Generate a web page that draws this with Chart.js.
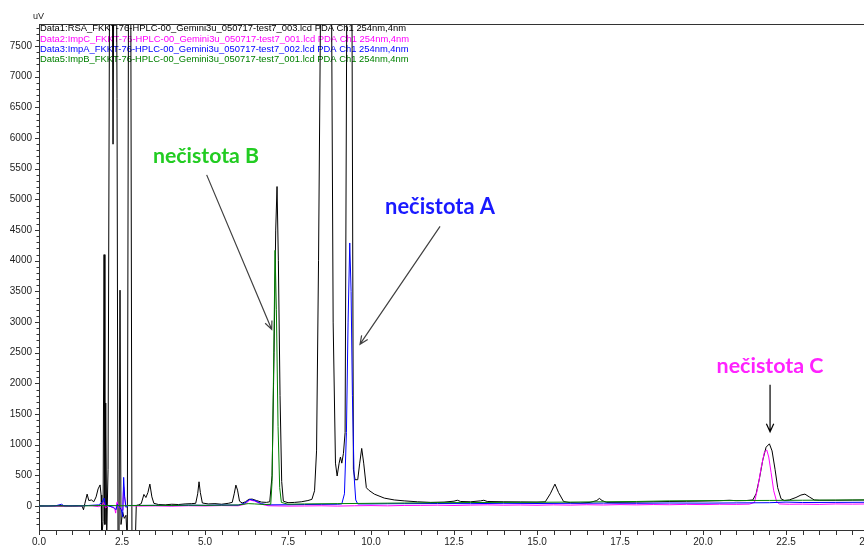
<!DOCTYPE html>
<html>
<head>
<meta charset="utf-8">
<script src="https://cdn.jsdelivr.net/npm/chart.js@4.4.1/dist/chart.umd.min.js"></script>
<style>
  html, body { margin: 0; padding: 0; background: #fff; overflow: hidden; }
  #wrap { width: 890px; height: 546px; position: relative; }
</style>
</head>
<body>
<div id="wrap"><canvas id="c"></canvas></div>
<script>
// ---------------- DATA (time [min], signal [uV]) ----------------
const seriesNames = [
  'Data1:RSA_FKKT-76-HPLC-00_Gemini3u_050717-test7_003.lcd PDA Ch1 254nm,4nm',
  'Data2:ImpC_FKKT-76-HPLC-00_Gemini3u_050717-test7_001.lcd PDA Ch1 254nm,4nm',
  'Data3:ImpA_FKKT-76-HPLC-00_Gemini3u_050717-test7_002.lcd PDA Ch1 254nm,4nm',
  'Data5:ImpB_FKKT-76-HPLC-00_Gemini3u_050717-test7_001.lcd PDA Ch1 254nm,4nm'
];

const rsaPoints = [
  [0.00,5],[0.30,0],[0.60,8],[0.90,2],[1.20,6],[1.30,0],[1.34,-60],[1.38,40],[1.45,195],[1.50,90],
  [1.58,100],[1.65,70],[1.72,150],[1.78,280],[1.84,345],[1.87,180],[1.89,-500],[1.93,-250],[1.96,4100],
  [1.985,-300],[2.01,1680],[2.04,-450],[2.08,600],[2.13,9500],[2.20,9500],[2.23,5900],[2.26,9500],
  [2.33,9500],[2.35,6650],[2.38,-600],[2.41,-600],[2.44,3520],[2.47,-300],[2.52,-100],[2.57,-200],
  [2.62,-150],[2.66,-600],[2.70,9500],[2.76,9500],[2.80,-600],[2.90,-600],[2.93,10],[3.00,20],
  [3.08,40],[3.16,190],[3.22,140],[3.28,220],[3.34,358],[3.40,150],[3.46,45],[3.60,25],[3.80,20],
  [4.00,30],[4.20,25],[4.40,35],[4.60,40],[4.72,45],[4.78,200],[4.82,396],[4.86,220],[4.92,50],
  [5.10,35],[5.30,40],[5.50,30],[5.70,45],[5.82,60],[5.88,200],[5.93,342],[5.98,260],[6.04,80],
  [6.12,50],[6.22,70],[6.32,110],[6.42,114],[6.55,90],[6.70,65],[6.85,60],[6.95,70],[7.02,500],
  [7.08,2500],[7.13,4500],[7.17,5210],[7.21,4000],[7.26,1800],[7.31,400],[7.36,80],[7.50,55],
  [7.70,60],[7.90,70],[8.10,90],[8.22,110],[8.30,250],[8.36,900],[8.42,4000],[8.50,9500],[8.80,9500],
  [8.86,3000],[8.93,700],[8.98,490],[9.04,700],[9.08,800],[9.12,700],[9.17,860],[9.22,1200],
  [9.28,9500],[9.42,9500],[9.47,600],[9.52,430],[9.60,430],[9.66,700],[9.72,940],[9.78,700],
  [9.86,300],[9.93,260],[10.1,195],[10.4,130],[10.7,100],[11.0,85],[11.4,70],[11.8,60],[12.2,65],
  [12.5,80],[12.6,95],[12.7,75],[13.0,70],[13.3,85],[13.4,95],[13.5,75],[14.0,70],[14.5,68],
  [15.0,65],[15.25,70],[15.4,200],[15.54,358],[15.65,220],[15.8,75],[16.0,55],[16.3,50],[16.6,60],
  [16.8,90],[16.88,125],[16.96,90],[17.1,60],[17.5,62],[18.0,65],[18.5,70],[19.0,75],[19.5,78],
  [20.0,82],[20.5,88],[20.8,95],[21.0,88],[21.3,90],[21.5,100],[21.6,200],[21.7,450],[21.8,750],
  [21.9,960],[22.0,1015],[22.08,900],[22.17,600],[22.25,300],[22.35,120],[22.45,90],[22.6,100],
  [22.8,140],[22.95,180],[23.07,195],[23.2,150],[23.35,100],[23.5,95],[24.0,95],[24.5,98],[25.0,100]
];

const impCPoints = [
  [0.00,-5],[0.40,-2],[0.80,-8],[1.20,-4],[1.40,10],[1.60,5],[1.80,-10],[1.90,20],[1.96,60],
  [2.00,-30],[2.10,10],[2.20,-20],[2.28,-40],[2.31,-115],[2.34,50],[2.36,70],[2.40,-20],[2.46,-30],
  [2.50,-65],[2.53,100],[2.55,315],[2.58,150],[2.61,-10],[2.66,10],[2.80,5],[3.00,0],[3.50,3],
  [4.00,-2],[4.50,5],[5.00,2],[5.50,8],[6.00,5],[6.20,30],[6.35,100],[6.50,80],[6.70,30],[6.90,5],
  [7.50,0],[8.00,2],[8.50,5],[9.00,0],[9.50,5],[10.0,8],[10.5,4],[11.0,10],[11.5,12],[12.0,15],
  [12.5,10],[13.0,16],[13.5,20],[14.0,15],[14.5,18],[15.0,14],[15.5,20],[16.0,16],[16.5,22],
  [17.0,18],[17.5,24],[18.0,20],[18.5,25],[19.0,22],[19.5,28],[20.0,24],[20.5,30],[21.0,28],
  [21.4,32],[21.55,60],[21.65,300],[21.75,620],[21.85,880],[21.92,915],[21.98,800],[22.05,550],
  [22.13,250],[22.22,70],[22.3,35],[22.6,30],[23.0,32],[23.5,28],[24.0,35],[24.5,32],[25.0,35]
];

const impAPoints = [
  [0.00,0],[0.50,5],[0.68,30],[0.75,5],[1.00,3],[1.30,5],[1.50,10],[1.80,20],[1.90,60],[1.96,130],
  [2.00,20],[2.10,0],[2.25,-20],[2.32,-60],[2.36,30],[2.42,-10],[2.48,-60],[2.52,-175],[2.55,468],
  [2.58,150],[2.62,-20],[2.70,10],[3.00,10],[3.50,12],[4.00,8],[4.50,15],[5.00,12],[5.50,18],
  [6.00,15],[6.20,50],[6.35,110],[6.50,90],[6.70,40],[6.90,20],[7.50,22],[8.00,25],[8.50,28],
  [9.00,30],[9.12,35],[9.20,200],[9.26,1200],[9.31,3000],[9.36,4290],[9.40,3500],[9.44,1800],
  [9.49,500],[9.54,100],[9.60,35],[10.0,35],[10.5,38],[11.0,40],[12.0,42],[13.0,40],[14.0,45],
  [15.0,42],[16.0,45],[17.0,48],[18.0,45],[19.0,50],[20.0,48],[21.0,52],[22.0,55],[22.5,65],
  [23.0,58],[24.0,60],[25.0,62]
];

const impBPoints = [
  [0.00,0],[0.50,2],[1.00,0],[1.50,5],[2.00,10],[2.50,5],[3.00,10],[3.50,12],[4.00,10],[4.50,15],
  [5.00,12],[5.50,15],[6.00,18],[6.30,40],[6.50,35],[6.80,25],[6.98,30],[7.02,400],[7.06,2000],
  [7.11,4170],[7.15,3200],[7.20,1300],[7.25,300],[7.30,60],[7.50,30],[8.00,35],[9.00,40],[10.0,45],
  [11.0,50],[12.0,55],[13.0,58],[14.0,60],[15.0,62],[16.0,65],[17.0,70],[18.0,75],[19.0,85],
  [20.0,88],[21.0,90],[22.0,92],[23.0,95],[24.0,98],[25.0,100]
];

const xTickLabels = ['0.0','2.5','5.0','7.5','10.0','12.5','15.0','17.5','20.0','22.5','25.0'];
const yTickLabels = ['0','500','1000','1500','2000','2500','3000','3500','4000','4500','5000','5500','6000','6500','7000','7500'];

const annotationTexts = ['nečistota B', 'nečistota A', 'nečistota C'];

// ---------------- STYLE / LAYOUT ----------------
const seriesColors = ['#000000', '#ff00ff', '#0000ff', '#008000'];
const annotations = [
  { text: annotationTexts[0], color: '#22cc22', at: [5.03, 5710], width: 106, from: [5.05, 5400], to: [7.01, 2880], arrow: '#404040' },
  { text: annotationTexts[1], color: '#1a1aff', at: [12.08, 4880], width: 110, from: [12.08, 4560], to: [9.67, 2640], arrow: '#404040' },
  { text: annotationTexts[2], color: '#ff22ff', at: [22.02, 2290], width: 107, from: [22.02, 1980], to: [22.02, 1210], arrow: '#000000' }
];

const toXY = pts => pts.map(p => ({ x: p[0], y: p[1] }));
const allPoints = [rsaPoints, impCPoints, impAPoints, impBPoints];

// draw order: black at bottom, then magenta, blue, green
const drawOrder = [4, 3, 2, 1];

const datasets = allPoints.map((pts, i) => ({
  label: seriesNames[i],
  data: toXY(pts),
  borderColor: seriesColors[i],
  borderWidth: 1,
  pointRadius: 0,
  tension: 0,
  fill: false,
  order: drawOrder[i]
}));

const legendTextPlugin = {
  id: 'legendText',
  beforeDatasetsDraw(chart) {
    const { ctx, chartArea } = chart;
    ctx.save();
    ctx.font = '9px "Liberation Sans", Arial, sans-serif';
    ctx.textBaseline = 'middle';
    const w0 = ctx.measureText(seriesNames[0]).width;
    const sx = 366 / w0;
    seriesNames.forEach((name, i) => {
      ctx.save();
      ctx.translate(chartArea.left + 1, chartArea.top + 5 + i * 10.3);
      ctx.scale(sx, 1);
      ctx.fillStyle = seriesColors[i];
      ctx.fillText(name, 0, 0);
      ctx.restore();
    });
    ctx.restore();
  }
};

const axisDecorPlugin = {
  id: 'axisDecor',
  afterDraw(chart) {
    const { ctx, chartArea, scales } = chart;
    const xs = scales.x, ys = scales.y;
    ctx.save();
    ctx.strokeStyle = '#333';
    ctx.lineWidth = 1;
    // top frame line
    ctx.beginPath();
    ctx.moveTo(chartArea.left, Math.round(chartArea.top) + 0.5);
    ctx.lineTo(chartArea.right + 30, Math.round(chartArea.top) + 0.5);
    ctx.stroke();
    // x ticks every 0.5
    ctx.beginPath();
    for (let k = 0; k <= 50; k++) {
      const px = Math.round(xs.getPixelForValue(k * 0.5)) + 0.5;
      ctx.moveTo(px, chartArea.bottom);
      ctx.lineTo(px, chartArea.bottom + 5);
    }
    ctx.stroke();
    // y ticks every 100
    ctx.beginPath();
    for (let v = -300; v <= 7800; v += 100) {
      const py = Math.round(ys.getPixelForValue(v)) + 0.5;
      const len = (v % 500 === 0) ? 4 : 2.5;
      ctx.moveTo(chartArea.left - len, py);
      ctx.lineTo(chartArea.left, py);
    }
    ctx.stroke();
    // uV label
    ctx.fillStyle = '#222';
    ctx.font = '9px "Liberation Sans", Arial, sans-serif';
    ctx.textBaseline = 'middle';
    ctx.textAlign = 'left';
    ctx.fillText('uV', chartArea.left - 6, chartArea.top - 7);
    ctx.restore();
  }
};

const annotationPlugin = {
  id: 'annot',
  afterDatasetsDraw(chart) {
    const { ctx, scales } = chart;
    const X = v => scales.x.getPixelForValue(v), Y = v => scales.y.getPixelForValue(v);
    ctx.save();
    annotations.forEach(a => {
      ctx.font = 'bold 18px Lato, "Open Sans", sans-serif';
      const mw = ctx.measureText(a.text).width;
      const fs = 18 * a.width / mw;
      ctx.font = 'bold ' + fs.toFixed(2) + 'px Lato, "Open Sans", sans-serif';
      ctx.fillStyle = a.color;
      ctx.textAlign = 'center';
      ctx.textBaseline = 'middle';
      ctx.fillText(a.text, X(a.at[0]), Y(a.at[1]));
      const x1 = X(a.from[0]), y1 = Y(a.from[1]), x2 = X(a.to[0]), y2 = Y(a.to[1]);
      ctx.strokeStyle = a.arrow;
      ctx.lineWidth = 1.2;
      ctx.beginPath();
      ctx.moveTo(x1, y1);
      ctx.lineTo(x2, y2);
      const ang = Math.atan2(y2 - y1, x2 - x1);
      const hl = 9, ha = 0.42;
      ctx.moveTo(x2 - hl * Math.cos(ang - ha), y2 - hl * Math.sin(ang - ha));
      ctx.lineTo(x2, y2);
      ctx.lineTo(x2 - hl * Math.cos(ang + ha), y2 - hl * Math.sin(ang + ha));
      ctx.stroke();
    });
    ctx.restore();
  }
};

new Chart(document.getElementById('c'), {
  type: 'line',
  data: { datasets },
  options: {
    responsive: true,
    maintainAspectRatio: false,
    animation: false,
    layout: { padding: { top: 24, right: 21, left: 0, bottom: 0 } },
    plugins: { legend: { display: false }, tooltip: { enabled: false } },
    scales: {
      x: {
        type: 'linear', min: 0, max: 25,
        grid: { display: false, drawTicks: false },
        border: { display: true, color: '#333', width: 1 },
        ticks: {
          autoSkip: false, maxRotation: 0,
          padding: 6, color: '#222',
          font: { family: '"Liberation Sans", Arial, sans-serif', size: 10 },
          callback: (v) => Number(v).toFixed(1)
        },
        afterBuildTicks: s => { s.ticks = xTickLabels.map(t => ({ value: Number(t) })); },
        afterFit: s => { s.height = 16; }
      },
      y: {
        type: 'linear', min: -390, max: 7860,
        grid: { display: false, drawTicks: false },
        border: { display: true, color: '#333', width: 1 },
        ticks: {
          autoSkip: false,
          padding: 7, color: '#222',
          font: { family: '"Liberation Sans", Arial, sans-serif', size: 10 },
          callback: (v) => String(Math.round(v))
        },
        afterBuildTicks: s => { s.ticks = yTickLabels.map(t => ({ value: Number(t) })); },
        afterFit: s => { s.width = 39; }
      }
    }
  },
  plugins: [legendTextPlugin, axisDecorPlugin, annotationPlugin]
});
</script>
</body>
</html>
